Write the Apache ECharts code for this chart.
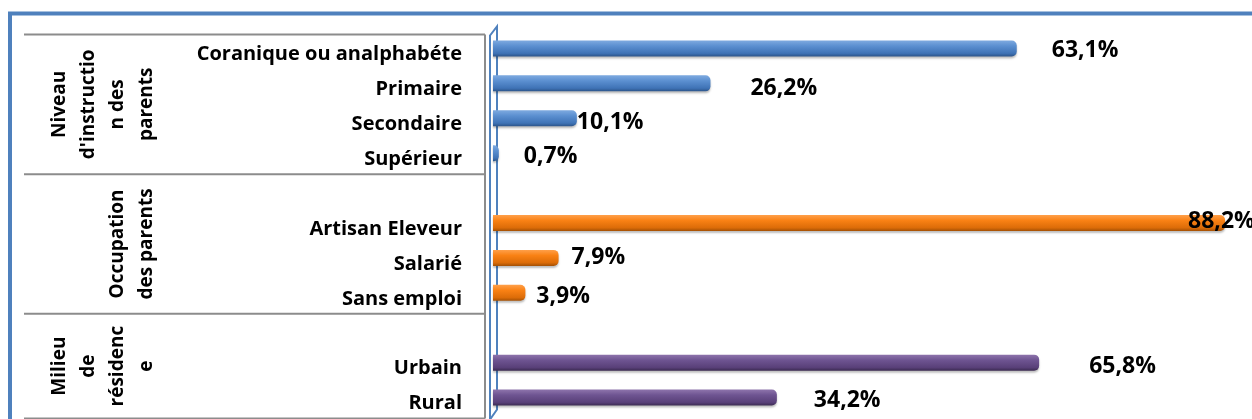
<!DOCTYPE html>
<html>
<head>
<meta charset="utf-8">
<script src="https://cdn.jsdelivr.net/npm/echarts@6/dist/echarts.min.js"></script>
<style>
  html, body { margin: 0; padding: 0; background: #fff; }
  #main { width: 1252px; height: 419px; }
</style>
</head>
<body>
<div id="main"></div>
<script>
// categories, empty slots keep the gaps between the three blocks
const categories = ['Coranique ou analphabéte', 'Primaire', 'Secondaire', 'Supérieur', '',
  'Artisan Eleveur', 'Salarié', 'Sans emploi', ' ',
  'Urbain', 'Rural'];
const values = [63.1, 26.2, 10.1, 0.7, null, 88.2, 7.9, 3.9, null, 65.8, 34.2];
const groupLabels = ["Niveau\nd'instructio\nn des\nparents", 'Occupation\ndes parents', 'Milieu\nde\nrésidenc\ne'];
const groupSizes = [4, 4, 3];

// styling
const FONT = 'Open Sans';
const groupColors = [
  ['#7eaae0', '#5b8fd0', '#3f73b6', '#2c5489'],
  ['#ffa04a', '#f98114', '#dc6c08', '#a45004'],
  ['#8e74ac', '#6e5491', '#594079', '#3c2b52']
];
// label offsets, the excel labels are not all at the same distance
const labelShift = [[35, 2], [40, 5], [0, 4], [25, 3], [0, 0], [-37, -2], [13, 0], [11, 4], [0, 0], [50, 4], [37, 3]];

const chart = echarts.init(document.getElementById('main'));

// which block each row belongs to
const rowGroup = [];
groupSizes.forEach((n, g) => { for (let k = 0; k < n; k++) rowGroup.push(g); });

function grad(c) {
  return new echarts.graphic.LinearGradient(0, 0, 0, 1, [
    { offset: 0, color: c[0] },
    { offset: 0.35, color: c[1] },
    { offset: 0.8, color: c[2] },
    { offset: 1, color: c[3] }
  ]);
}

const barData = values.map((v, i) => {
  if (v == null) return '-';
  return {
    value: v,
    itemStyle: { color: grad(groupColors[rowGroup[i]]) },
    label: { offset: labelShift[i] }
  };
});

chart.setOption({
  animation: false,
  grid: { left: 493, right: 12, top: 31, bottom: 4 },
  xAxis: { type: 'value', min: 0, max: 90, show: false },
  yAxis: {
    type: 'category',
    inverse: true,
    data: categories,
    axisLine: { show: false },
    axisTick: { show: false },
    splitLine: { show: false },
    axisLabel: {
      margin: 31,
      formatter: v => v.trim() ? '{c|' + v + '}' : '',
      rich: {
        c: {
          fontFamily: FONT,
          fontWeight: 'bold',
          fontSize: 20,
          color: '#000',
          padding: [12, 0, 0, 0]
        }
      }
    }
  },
  series: [{
    type: 'bar',
    z: 5,
    barWidth: 16,
    data: barData,
    itemStyle: {
      borderRadius: [0, 5, 5, 0],
      shadowColor: 'rgba(0,0,0,0.25)',
      shadowBlur: 2,
      shadowOffsetY: 2
    },
    label: {
      show: true,
      position: 'right',
      distance: 0,
      fontFamily: FONT,
      fontWeight: 'bold',
      fontSize: 23,
      color: '#000',
      formatter: p => p.value.toFixed(1).replace('.', ',') + '%'
    }
  }]
});

// frame, block separators and group titles, placed from the axis
const y0 = chart.convertToPixel({ yAxisIndex: 0 }, 0);
const y1 = chart.convertToPixel({ yAxisIndex: 0 }, 1);
const band = y1 - y0;
const depth = 3.5;
const elements = [];

elements.push({
  type: 'rect', z: 0,
  shape: { x: 10, y: 13.5, width: 1400, height: 600 },
  style: { fill: 'none', stroke: '#4f81bd', lineWidth: 4 }
});

let start = 0;
const yTop = y0 - band / 2 + depth;
const yBottom = y0 + (categories.length - 0.5) * band + depth;
elements.push({
  type: 'line', z: 0,
  shape: { x1: 24, y1: yTop, x2: 485, y2: yTop },
  style: { stroke: '#8c8c8c', lineWidth: 2 }
});
groupSizes.forEach((n, g) => {
  const first = chart.convertToPixel({ yAxisIndex: 0 }, start);
  const last = chart.convertToPixel({ yAxisIndex: 0 }, start + n - 1);
  const yb = last + band / 2 + depth;
  elements.push({
    type: 'line', z: 0,
    shape: { x1: 24, y1: yb, x2: 485, y2: yb },
    style: { stroke: '#8c8c8c', lineWidth: 2 }
  });
  elements.push({
    type: 'text', z: 1,
    x: 161, y: (first + last) / 2 + depth,
    rotation: Math.PI / 2,
    style: {
      text: groupLabels[g],
      font: 'bold 19px "Open Sans"',
      lineHeight: 29,
      align: 'center',
      verticalAlign: 'bottom',
      fill: '#000'
    }
  });
  start += n;
});
elements.push({
  type: 'line', z: 0,
  shape: { x1: 485, y1: yTop, x2: 485, y2: yBottom },
  style: { stroke: '#8c8c8c', lineWidth: 2 }
});
// 3d wall of the axis
elements.push({
  type: 'polyline', z: 0,
  shape: { points: [[490, yBottom + 1], [490, yTop + 1], [497, yTop - 8], [497, yBottom - 9], [490, yBottom + 1]] },
  style: { fill: 'none', stroke: '#4f81bd', lineWidth: 2 }
});

chart.setOption({ graphic: { elements: elements } });
</script>
</body>
</html>
